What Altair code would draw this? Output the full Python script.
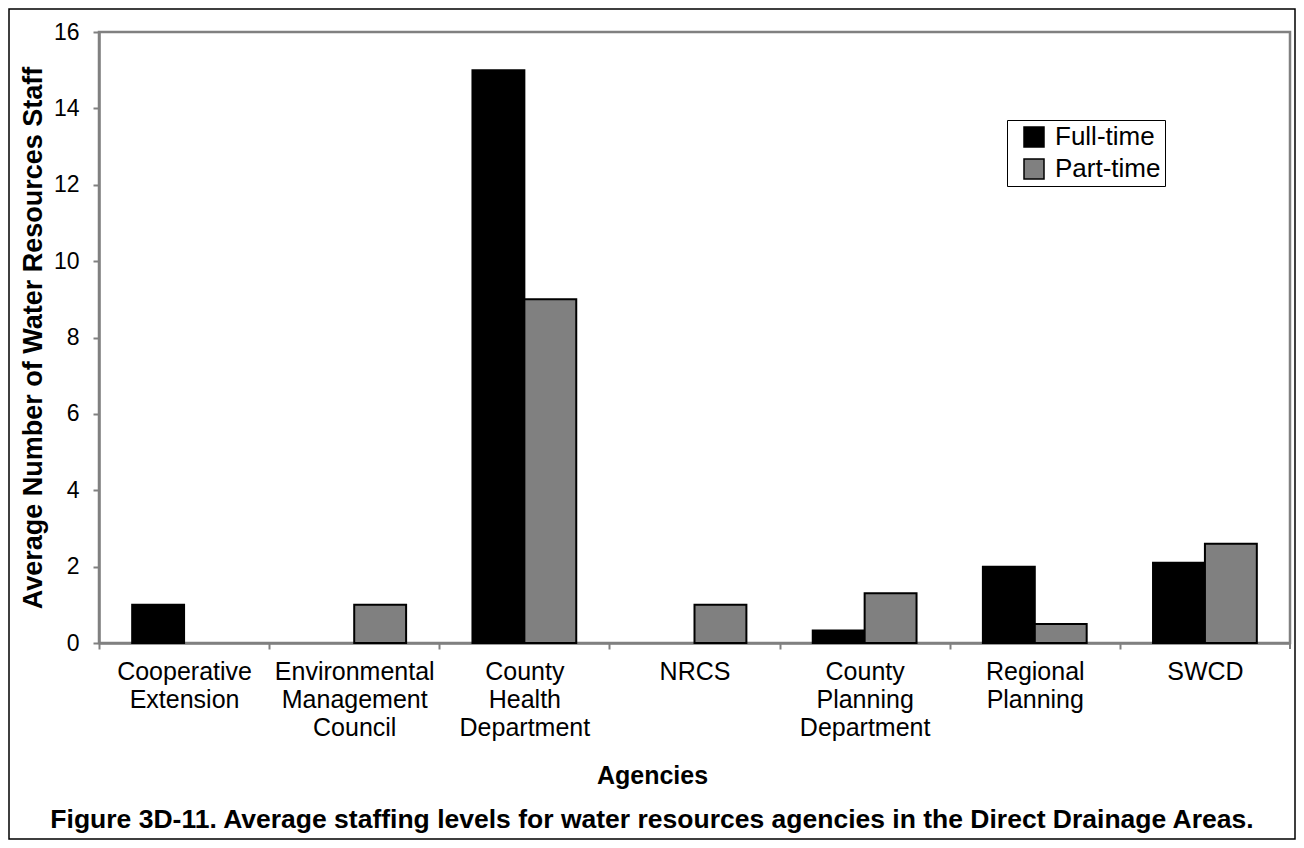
import altair as alt
import pandas as pd

categories = [
    "Cooperative Extension",
    "Environmental Management Council",
    "County Health Department",
    "NRCS",
    "County Planning Department",
    "Regional Planning",
    "SWCD",
]
series = ["Full-time", "Part-time"]
full_time = [1, 0, 15, 0, 0.33, 2, 2.1]
part_time = [0, 1, 9, 1, 1.3, 0.5, 2.6]
y_ticks = [0, 2, 4, 6, 8, 10, 12, 14, 16]
caption = "Figure 3D-11. Average staffing levels for water resources agencies in the Direct Drainage Areas."

rows = []
for c, f, p in zip(categories, full_time, part_time):
    rows.append({"Agency": c, "Type": series[0], "Staff": f})
    rows.append({"Agency": c, "Type": series[1], "Staff": p})
df = pd.DataFrame(rows)
df = df[df["Staff"] > 0]

W, H = 1191, 611
FONT = "Liberation Sans"
GRAY = "#808080"
half_step = W / len(categories) / 2

bars = alt.Chart(df).mark_bar(stroke="black", strokeWidth=2).encode(
    x=alt.X(
        "Agency:N",
        sort=categories,
        scale=alt.Scale(paddingInner=0.39, paddingOuter=0.195),
        axis=alt.Axis(
            title="Agencies",
            labelAngle=0,
            labelExpr="split(datum.label, ' ')",
            labelFontSize=25,
            labelLineHeight=28,
            labelPadding=10,
            labelColor="black",
            tickOffset=-half_step,
            labelOffset=half_step,
            tickSize=6,
            tickColor=GRAY,
            tickWidth=2,
            domainColor=GRAY,
            domainWidth=2.5,
            titleFontSize=25,
            titleFontWeight="bold",
            titleColor="black",
            titleX=553,
            titleY=132,
            titleBaseline="middle",
            grid=False,
        ),
    ),
    xOffset=alt.XOffset("Type:N", sort=series, scale=alt.Scale(domain=series, paddingInner=0, paddingOuter=0)),
    y=alt.Y(
        "Staff:Q",
        scale=alt.Scale(domain=[0, 16], nice=False),
        axis=alt.Axis(
            title="Average Number of Water Resources Staff",
            values=y_ticks,
            labelFontSize=23,
            labelPadding=14,
            labelColor="black",
            tickSize=6,
            tickColor=GRAY,
            tickWidth=2,
            domainColor=GRAY,
            domainWidth=2.5,
            titleFontSize=27,
            titleFontWeight="bold",
            titleColor="black",
            titlePadding=6,
            grid=False,
        ),
    ),
    color=alt.Color(
        "Type:N",
        scale=alt.Scale(domain=series, range=["#000000", GRAY]),
        legend=alt.Legend(
            title=None,
            orient="none",
            legendX=908,
            legendY=88,
            strokeColor="black",
            fillColor="white",
            padding=4,
            symbolOffset=10,
            symbolType="square",
            symbolSize=400,
            symbolStrokeColor="black",
            symbolStrokeWidth=1.5,
            labelFontSize=26,
            labelColor="black",
            rowPadding=6,
            labelOffset=8,
        ),
    ),
)

deco = pd.DataFrame({"k": [0]})

border = alt.Chart(deco).mark_rect(fill=None, stroke="black", strokeWidth=1.5).encode(
    x=alt.value(-90), x2=alt.value(1196), y=alt.value(-23), y2=alt.value(807)
)

end_tick = alt.Chart(deco).mark_rule(color=GRAY, strokeWidth=2).encode(
    x=alt.value(W), y=alt.value(H), y2=alt.value(H + 6)
)

cap = alt.Chart(deco).mark_text(
    text=caption, fontSize=26.5, fontWeight="bold", font=FONT, align="center", baseline="middle", color="black"
).encode(x=alt.value(553), y=alt.value(788))

chart = alt.layer(border, bars, end_tick, cap).properties(
    width=W,
    height=H,
    autosize=alt.AutoSizeParams(type="none"),
    padding={"left": 91, "top": 24, "right": 6, "bottom": 197},
).configure(
    font=FONT,
).configure_view(
    stroke=GRAY, strokeWidth=2.5
)

chart.save("out.html", embed_options={"renderer": "svg", "actions": False})
